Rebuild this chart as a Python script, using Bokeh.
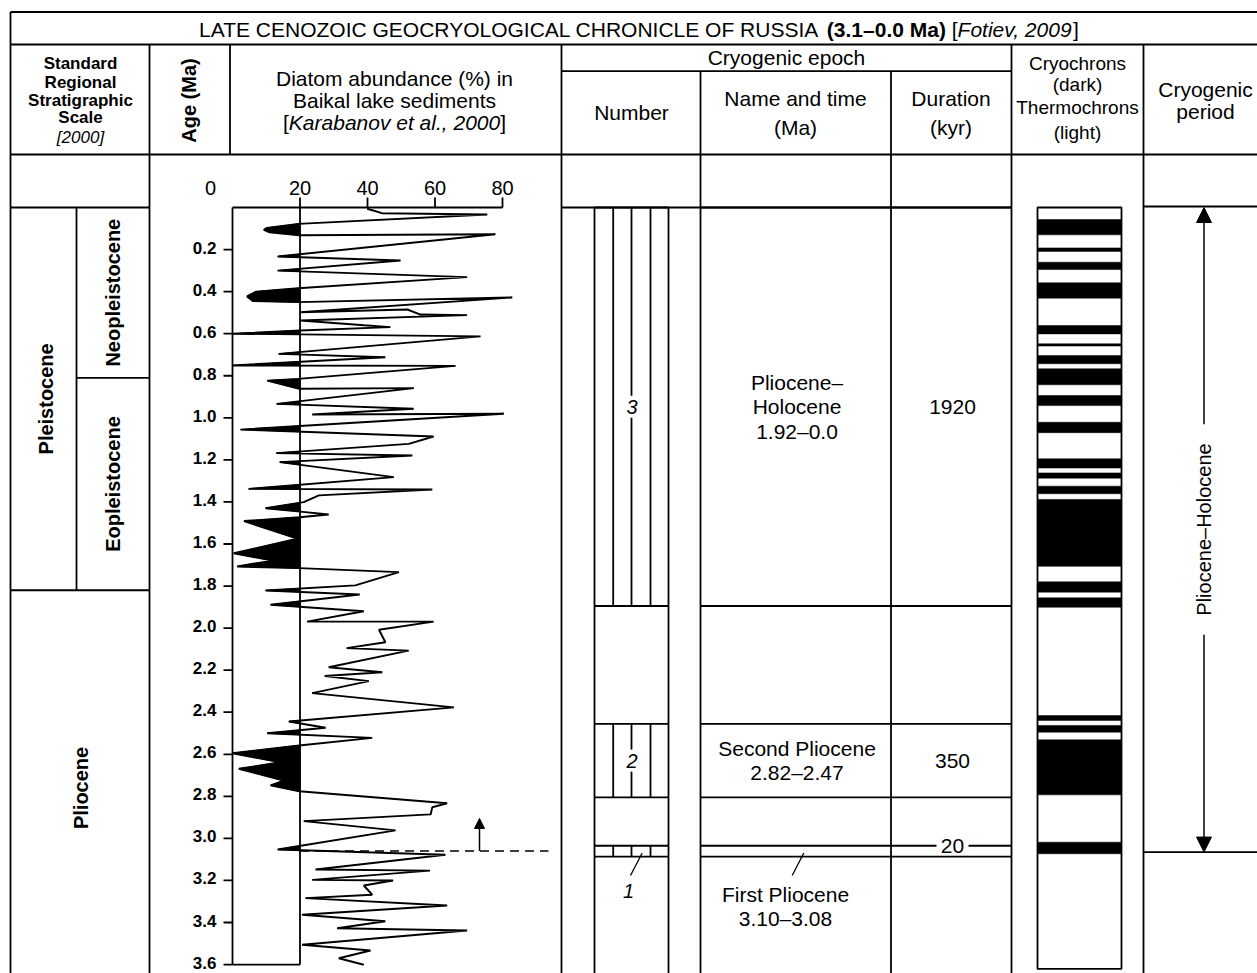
import math
from bokeh.plotting import figure
from bokeh.models import Range1d, Arrow, NormalHead
from bokeh.core.properties import value
from bokeh.embed import file_html
from bokeh.resources import INLINE

# ---------------------------------------------------------------- data
TITLE_MAIN = "LATE CENOZOIC GEOCRYOLOGICAL CHRONICLE OF RUSSIA"
TITLE_SPAN = "(3.1–0.0 Ma)"
TITLE_REF = "Fotiev, 2009"

# Diatom abundance (%) in Baikal lake sediments vs age (Ma)
DIATOM_AGE = [0.006, 0.027, 0.033, 0.078, 0.097, 0.106, 0.118, 0.132, 0.127, 0.233,
              0.252, 0.300, 0.331, 0.384, 0.400, 0.423, 0.445, 0.450, 0.428, 0.498,
              0.485, 0.509, 0.512, 0.537, 0.560, 0.569, 0.585, 0.600, 0.613, 0.696,
              0.712, 0.751, 0.753, 0.815, 0.823, 0.862, 0.859, 0.934, 0.957, 0.984,
              0.981, 1.056, 1.089, 1.124, 1.168, 1.179, 1.211, 1.282, 1.338, 1.341,
              1.369, 1.401, 1.430, 1.446, 1.460, 1.473, 1.491, 1.575, 1.644, 1.679,
              1.707, 1.715, 1.734, 1.797, 1.821, 1.840, 1.889, 1.920, 1.969, 1.969,
              2.008, 2.067, 2.095, 2.107, 2.186, 2.210, 2.228, 2.252, 2.309, 2.377,
              2.444, 2.474, 2.500, 2.522, 2.558, 2.595, 2.638, 2.669, 2.725, 2.748,
              2.776, 2.833, 2.852, 2.886, 2.918, 2.962, 3.053, 3.078, 3.148, 3.153,
              3.197, 3.200, 3.224, 3.268, 3.284, 3.319, 3.363, 3.394, 3.427, 3.438,
              3.506, 3.533, 3.570, 3.601]
DIATOM_PCT = [39.9, 44.3, 75.5, 19.5, 10.2, 9.3, 11.0, 19.8, 77.9, 13.4,
              49.8, 13.4, 69.5, 19.5, 7.0, 4.3, 6.0, 19.5, 82.9, 20.1,
              51.8, 55.7, 69.5, 20.1, 39.0, 46.8, 20.1, 0.0, 73.5, 13.7,
              45.3, 0.0, 66.1, 19.5, 10.3, 19.8, 53.7, 13.1, 53.7, 23.6,
              80.4, 2.4, 59.6, 52.2, 13.0, 53.3, 14.0, 47.8, 4.8, 59.2,
              25.6, 21.1, 9.8, 20.1, 28.5, 19.9, 3.4, 19.2, 0.4, 11.8,
              1.4, 19.8, 49.3, 36.4, 9.8, 37.7, 11.3, 38.9, 22.1, 59.6,
              43.4, 45.3, 33.8, 52.2, 28.5, 44.4, 27.3, 40.4, 23.6, 65.6,
              16.7, 27.6, 10.3, 41.4, 19.8, 0.0, 14.2, 1.9, 15.2, 11.3,
              19.8, 63.6, 59.2, 58.7, 21.1, 48.3, 13.4, 63.1, 24.6, 58.5,
              23.6, 47.6, 38.9, 41.4, 21.6, 63.6, 20.6, 45.3, 31.0, 69.5,
              20.6, 40.9, 31.5, 38.9]
PCT_THRESHOLD = 20
PCT_TICKS = [20, 40, 60, 80]
AGE_TICKS = [0.2, 0.4, 0.6, 0.8, 1.0, 1.2, 1.4, 1.6, 1.8, 2.0, 2.2, 2.4, 2.6, 2.8,
             3.0, 3.2, 3.4, 3.6]

# Standard Regional Stratigraphic Scale
STRAT_MAIN = ["Pleistocene", "Pliocene"]
STRAT_MAIN_TOP = [0.0, 1.82]
STRAT_MAIN_BASE = [1.82, 3.70]
STRAT_SUB = ["Neopleistocene", "Eopleistocene"]
STRAT_SUB_TOP = [0.0, 0.81]
STRAT_SUB_BASE = [0.81, 1.82]

# Cryogenic epochs (as drawn)
EPOCH_NUMBER = ["3", "2", "1"]
EPOCH_YOUNG = [0.0, 2.455, 3.035]
EPOCH_OLD = [1.895, 2.805, 3.087]
EPOCH_NAME = [["Pliocene–", "Holocene", "1.92–0.0"],
              ["Second Pliocene", "2.82–2.47"],
              ["First Pliocene", "3.10–3.08"]]
EPOCH_DURATION = ["1920", "350", "20"]

# Cryochrons (dark bands), ages in Ma
CRYO_YOUNG = [0.057, 0.192, 0.260, 0.358, 0.561, 0.648, 0.704, 0.767, 0.894, 1.021,
              1.195, 1.262, 1.325, 1.388, 1.780, 1.856, 2.416, 2.463, 2.531, 3.018]
CRYO_OLD = [0.130, 0.209, 0.295, 0.431, 0.601, 0.659, 0.743, 0.843, 0.942, 1.071,
            1.239, 1.287, 1.361, 1.706, 1.829, 1.901, 2.439, 2.495, 2.793, 3.073]
CRYO_COLUMN_BASE = 3.62

# Cryogenic period
PERIOD_NAME = "Pliocene–Holocene"
PERIOD_YOUNG = 0.0
PERIOD_OLD = 3.065
ONSET_AGE = 3.06

# ---------------------------------------------------------------- layout
W, H = 1257, 973
X0, X1 = 0, 1257
Y0, Y1 = 0, 973
PCT_PX0, PCT_PX_PER = 232.0, 3.375
AGE_PX0, AGE_PX_PER = 207.0, 210.3
LW = 1.8
FONT = value("Liberation Sans")


def pct_at(px):
    return (px - PCT_PX0) / PCT_PX_PER


def age_at(py):
    return (py - AGE_PX0) / AGE_PX_PER


def px_of_pct(v):
    return PCT_PX0 + v * PCT_PX_PER


ARIAL = {" ": 278, "(": 333, ")": 333, "[": 278, "]": 278, ",": 278, ".": 278,
         "–": 556, "%": 889, "-": 333}
for c in "0123456789":
    ARIAL[c] = 556
for c, w in zip("ABCDEFGHIJKLMNOPQRSTUVWXYZ",
                [667, 667, 722, 722, 667, 611, 778, 722, 278, 500, 667, 556, 833,
                 722, 778, 667, 778, 722, 667, 611, 722, 667, 944, 667, 667, 611]):
    ARIAL[c] = w
for c, w in zip("abcdefghijklmnopqrstuvwxyz",
                [556, 556, 500, 556, 556, 278, 556, 556, 222, 222, 500, 222, 833,
                 556, 556, 556, 556, 333, 500, 278, 556, 500, 722, 500, 500, 500]):
    ARIAL[c] = w


def text_w(s, size):
    return sum(ARIAL.get(c, 556) for c in s) * size / 1000.0


p = figure(width=W, height=H, x_range=Range1d(X0, X1), y_range=Range1d(Y1, Y0),
           x_axis_location=None, y_axis_location=None, toolbar_location=None,
           output_backend="svg", min_border=0, background_fill_color="white",
           border_fill_color="white", outline_line_color=None)
p.grid.visible = False
p.extra_x_ranges = {"pct": Range1d(pct_at(X0), pct_at(X1))}
p.extra_y_ranges = {"age": Range1d(age_at(Y1), age_at(Y0))}


def seg(x0, y0, x1, y1, xr="default", yr="default", **kw):
    opts = dict(line_color="black", line_width=LW)
    opts.update(kw)
    p.segment(x0=x0, y0=y0, x1=x1, y1=y1, x_range_name=xr, y_range_name=yr, **opts)


def txt(x, y, s, size, style="normal", align="center", baseline="middle", angle=0.0,
        xr="default", yr="default", **kw):
    xs = x if isinstance(x, list) else [x]
    ys = y if isinstance(y, list) else [y]
    ss = s if isinstance(s, list) else [s]
    p.text(x=xs, y=ys, text=ss, text_font=FONT, text_font_size=f"{size}px",
           text_font_style=style, text_align=align, text_baseline=baseline,
           angle=angle, text_color="black", x_range_name=xr, y_range_name=yr, **kw)


def runs(parts, center, y, size):
    """lay out a line of differently styled pieces; a None piece is a space"""
    widths = [text_w(" " if s is None else s, size) for s, _ in parts]
    x = center - sum(widths) / 2
    for (s, st), w in zip(parts, widths):
        if s is not None:
            txt(x, y, s, size, style=st, align="left")
        x += w


# ---------------------------------------------------------------- table grid
seg([10, 10, 561, 10, 10, 561, 1143],
    [11.5, 44, 70.7, 154, 207, 207, 206],
    [X1, X1, 1011, X1, 149, 1011, X1],
    [11.5, 44, 70.7, 154, 207, 207, 206])
seg([10, 149, 229.5, 561, 700, 890.5, 1011, 1143, 594, 668],
    [11.5, 44, 44, 44, 70.7, 70.7, 44, 44, 207, 207],
    [10, 149, 229.5, 561, 700, 890.5, 1011, 1143, 594, 668],
    [Y1, Y1, 154, Y1, Y1, Y1, Y1, Y1, Y1, Y1])

# ---------------------------------------------------------------- headers
runs([(TITLE_MAIN, "normal"), (None, "normal"), (TITLE_SPAN, "bold"), (None, "normal"),
      ("[", "normal"), (TITLE_REF, "italic"), ("]", "normal")], 638.5, 28.5, 21)

for s, yy in zip(["Standard", "Regional", "Stratigraphic", "Scale"], [63, 82, 100, 117]):
    txt(80, yy, s, 17, style="bold")
txt(80, 137, "[2000]", 17, style="italic")
txt(188, 100, "Age (Ma)", 20, style="bold", angle=math.pi / 2)

txt(394, 78, "Diatom abundance (%) in", 21)
txt(394, 100, "Baikal lake sediments", 21)
runs([("[", "normal"), ("Karabanov et al., 2000", "italic"), ("]", "normal")], 394, 122, 21)

txt(786, 57, "Cryogenic epoch", 21)
txt(631, 112, "Number", 21)
txt(795, 98, "Name and time", 21)
txt(795, 127, "(Ma)", 21)
txt(950.5, 98, "Duration", 21)
txt(950.5, 127, "(kyr)", 21)
for s, yy in zip(["Cryochrons", "(dark)", "Thermochrons", "(light)"], [63, 84, 107, 132]):
    txt(1077, yy, s, 19)
txt(1205, 89, "Cryogenic", 21)
txt(1205, 111, "period", 21)

# ---------------------------------------------------------------- stratigraphic scale
seg([76], [STRAT_SUB_TOP[0]], [76], [STRAT_SUB_BASE[-1]], yr="age")
seg([76, 10], [STRAT_SUB_BASE[0], STRAT_MAIN_BASE[0]],
    [149, 149], [STRAT_SUB_BASE[0], STRAT_MAIN_BASE[0]], yr="age")
txt([45, 80], [(STRAT_MAIN_TOP[0] + STRAT_MAIN_BASE[0]) / 2,
               (STRAT_MAIN_TOP[1] + STRAT_MAIN_BASE[1]) / 2],
    STRAT_MAIN, 20, style="bold", angle=math.pi / 2, yr="age")
txt([112.5, 112.5], [(a + b) / 2 for a, b in zip(STRAT_SUB_TOP, STRAT_SUB_BASE)],
    STRAT_SUB, 20, style="bold", angle=math.pi / 2, yr="age")

# ---------------------------------------------------------------- diatom panel
polys_x, polys_y = [], []
n = len(DIATOM_PCT)
i = 0
thr = PCT_THRESHOLD
while i < n:
    if DIATOM_PCT[i] < thr:
        j = i
        while j + 1 < n and DIATOM_PCT[j + 1] < thr:
            j += 1
        xs, ys = [], []
        if i > 0:
            a0, v0, a1, v1 = DIATOM_AGE[i - 1], DIATOM_PCT[i - 1], DIATOM_AGE[i], DIATOM_PCT[i]
            t = (thr - v0) / (v1 - v0)
            xs.append(thr); ys.append(a0 + t * (a1 - a0))
        for k in range(i, j + 1):
            xs.append(DIATOM_PCT[k]); ys.append(DIATOM_AGE[k])
        if j < n - 1:
            a0, v0, a1, v1 = DIATOM_AGE[j], DIATOM_PCT[j], DIATOM_AGE[j + 1], DIATOM_PCT[j + 1]
            t = (thr - v0) / (v1 - v0)
            xs.append(thr); ys.append(a0 + t * (a1 - a0))
        polys_x.append(xs); polys_y.append(ys)
        i = j + 1
    else:
        i += 1
p.patches(xs=polys_x, ys=polys_y, x_range_name="pct", y_range_name="age",
          fill_color="black", line_color="black", line_width=1)

p.line(DIATOM_PCT, DIATOM_AGE, x_range_name="pct", y_range_name="age",
       line_color="black", line_width=1.9)

# frame of the diatom panel
seg([0, PCT_THRESHOLD, 0, 0], [0, 0, 0, AGE_TICKS[-1]],
    [0, PCT_THRESHOLD, PCT_TICKS[-1], PCT_THRESHOLD],
    [AGE_TICKS[-1], AGE_TICKS[-1], 0, AGE_TICKS[-1]], xr="pct", yr="age")
seg(PCT_TICKS, [207] * len(PCT_TICKS), PCT_TICKS, [197] * len(PCT_TICKS), xr="pct")
txt(PCT_TICKS, [187] * len(PCT_TICKS), [str(v) for v in PCT_TICKS], 20, xr="pct")
txt(0, 187, "0", 20, xr="pct", x_offset=-22)
x_axis_px = px_of_pct(0)
seg([x_axis_px - 9] * len(AGE_TICKS), AGE_TICKS, [x_axis_px] * len(AGE_TICKS), AGE_TICKS,
    yr="age")
txt([x_axis_px - 16] * len(AGE_TICKS), AGE_TICKS, [f"{a:.1f}" for a in AGE_TICKS], 17,
    style="bold", align="right", yr="age", y_offset=-2)

# onset marker: dashed line and arrow
p.segment(x0=[px_of_pct(PCT_THRESHOLD)], y0=[ONSET_AGE], x1=[548], y1=[ONSET_AGE],
          y_range_name="age", line_color="black", line_width=1.5, line_dash="9 6")
p.add_layout(Arrow(end=NormalHead(size=10, fill_color="black", line_color="black"),
                   x_start=479, y_start=ONSET_AGE, x_end=479, y_end=ONSET_AGE - 0.155,
                   y_range_name="age", line_color="black", line_width=1.5))

# ---------------------------------------------------------------- cryogenic epochs
NUM_X = [612.7, 631, 650]
for k in range(len(EPOCH_NUMBER)):
    yg, od = EPOCH_YOUNG[k], EPOCH_OLD[k]
    seg([594, 700, 594, 700], [yg, yg, od, od], [668, 1011, 668, 1011], [yg, yg, od, od],
        yr="age")
    seg(NUM_X, [yg] * 3, NUM_X, [od] * 3, yr="age")

LINE_STEP = 24.5
for k in range(2):
    m = (EPOCH_YOUNG[k] + EPOCH_OLD[k]) / 2
    p.rect(x=[631.5], y=[m], width=15, height=22, height_units="screen",
           y_range_name="age", fill_color="white", line_color=None)
    txt(631.5, m, EPOCH_NUMBER[k], 20, style="italic", yr="age")
    lines = EPOCH_NAME[k]
    for li, s in enumerate(lines):
        txt(796.5, m, s, 21, yr="age", y_offset=(li - (len(lines) - 1) / 2) * LINE_STEP)
    txt(952, m, EPOCH_DURATION[k], 21, yr="age")

# first epoch: labels below with leader lines
txt(628, 890, EPOCH_NUMBER[2], 20, style="italic")
for li, s in enumerate(EPOCH_NAME[2]):
    txt(785, 894 + li * 23.5, s, 21)
seg([630, 791.7], [875, 875], [641.7, 803.3], [852.5, 852.5], line_width=1.3)
p.rect(x=[952], y=[EPOCH_YOUNG[2]], width=32, height=14, height_units="screen",
       y_range_name="age", fill_color="white", line_color=None)
txt(952, EPOCH_YOUNG[2], EPOCH_DURATION[2], 21, yr="age")

# ---------------------------------------------------------------- cryochrons
p.quad(left=[1037] * len(CRYO_YOUNG), right=[1121] * len(CRYO_YOUNG),
       top=CRYO_YOUNG, bottom=CRYO_OLD, y_range_name="age",
       fill_color="black", line_color="black", line_width=0.5)
p.quad(left=[1037], right=[1121], top=[0.0], bottom=[CRYO_COLUMN_BASE], y_range_name="age",
       fill_color=None, line_color="black", line_width=LW)

# ---------------------------------------------------------------- cryogenic period
seg([1143], [PERIOD_OLD], [X1], [PERIOD_OLD], yr="age")
label_age = age_at(529)
half_gap = 0.50
for a_from, a_to in [(label_age - half_gap, PERIOD_YOUNG), (label_age + half_gap, PERIOD_OLD)]:
    p.add_layout(Arrow(end=NormalHead(size=15, fill_color="black", line_color="black"),
                       x_start=1203.5, y_start=a_from, x_end=1203.5, y_end=a_to,
                       y_range_name="age", line_color="black", line_width=1.5))
txt(1203.5, label_age, PERIOD_NAME, 20, angle=math.pi / 2, yr="age")

open("out.html", "w").write(file_html(p, INLINE))
